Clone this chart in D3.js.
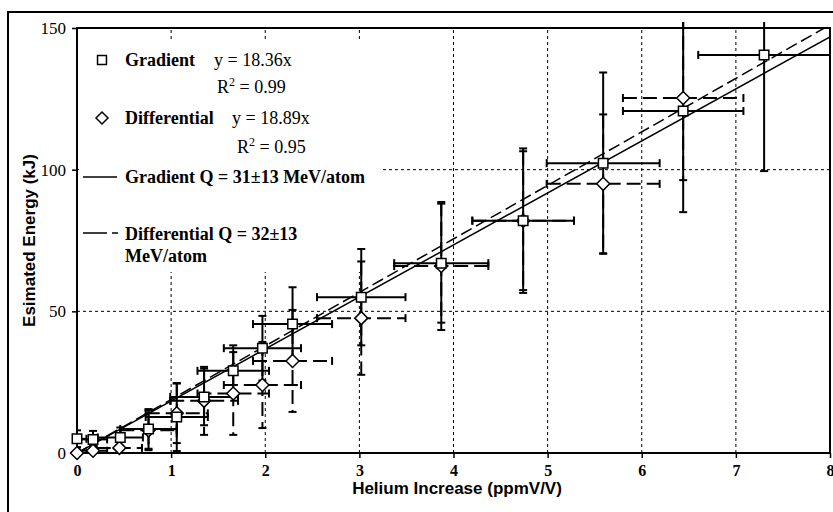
<!DOCTYPE html>
<html>
<head>
<meta charset="utf-8">
<script src="https://cdn.jsdelivr.net/npm/d3@7"></script>
<style>
  body { margin: 0; background: #fff; }
  svg { display: block; }
</style>
</head>
<body>
<svg id="chart" width="833" height="512"></svg>
<script>
// Gradient method: helium increase (ppmV/V) vs estimated energy (kJ)
const gradientX    = [0.00, 0.17, 0.46, 0.76, 1.06, 1.35, 1.66, 1.97, 2.29, 3.02, 3.87, 4.74, 5.59, 6.44, 7.30];
const gradientY    = [5.0, 4.8, 5.5, 8.5, 12.7, 19.8, 29.0, 37.0, 45.5, 55.0, 67.0, 82.0, 102.3, 120.7, 140.5];
const gradientXErr = [0.10, 0.15, 0.24, 0.30, 0.33, 0.36, 0.38, 0.41, 0.42, 0.47, 0.50, 0.54, 0.60, 0.64, 0.70];
const gradientYErr = [3.0, 3.0, 3.5, 7.0, 12.0, 10.0, 9.0, 11.4, 13.0, 17.0, 21.0, 25.5, 32.0, 35.7, 41.0];

// Differential method
const differentialX    = [0.00, 0.17, 0.45, 0.76, 1.06, 1.35, 1.66, 1.97, 2.29, 3.02, 3.87, 4.74, 5.59, 6.44];
const differentialY    = [0.0, 0.8, 1.8, 8.0, 14.0, 18.4, 21.0, 24.0, 32.5, 47.6, 66.0, 82.0, 95.0, 125.3];
const differentialXErr = [0.10, 0.15, 0.24, 0.30, 0.33, 0.36, 0.38, 0.41, 0.42, 0.47, 0.50, 0.54, 0.60, 0.64];
const differentialYErr = [2.0, 2.0, 3.0, 7.0, 10.5, 12.0, 14.6, 15.2, 18.0, 20.0, 22.6, 24.5, 24.5, 29.0];

// Fitted slopes (y = m x)
const gradientSlope = 18.36;
const differentialSlope = 18.89;

const xTicks = [0, 1, 2, 3, 4, 5, 6, 7, 8];
const yTicks = [0, 50, 100, 150];
const xGrid = [1, 2, 3, 4, 5, 6, 7];
const yGrid = [50, 100];

const xTitle = "Helium Increase (ppmV/V)";
const yTitle = "Esimated Energy (kJ)";

const svg = d3.select("#chart");
const serif = "'Liberation Serif', 'Times New Roman', serif";
const sans = "'Liberation Sans', Arial, sans-serif";

const x = d3.scaleLinear().domain([0, 8]).range([77, 830]);
const y = d3.scaleLinear().domain([0, 150]).range([453, 28]);

// outer frame
svg.append("rect").attr("x", 8).attr("y", 12).attr("width", 840).attr("height", 520)
  .attr("fill", "#fff").attr("stroke", "#000").attr("stroke-width", 2);

// gridlines
const grid = svg.append("g").attr("stroke", "#000").attr("stroke-width", 1).attr("stroke-dasharray", "3,3");
grid.selectAll("line.v").data(xGrid).join("line").attr("class", "v")
  .attr("x1", d => x(d)).attr("x2", d => x(d)).attr("y1", y(0)).attr("y2", y(150));
grid.selectAll("line.h").data(yGrid).join("line").attr("class", "h")
  .attr("x1", x(0)).attr("x2", x(8)).attr("y1", d => y(d)).attr("y2", d => y(d));

// axes
const yAxis = svg.append("g").attr("transform", `translate(${x(0)},0)`)
  .call(d3.axisLeft(y).tickValues(yTicks).tickSize(5).tickPadding(6).tickFormat(d3.format("d")));
yAxis.select(".domain").remove();
yAxis.selectAll("line").attr("stroke-width", 1.5);
yAxis.selectAll("text").attr("font-family", serif).attr("font-size", 17).attr("fill", "#000");

const xAxis = svg.append("g").attr("transform", `translate(0,${y(0)})`)
  .call(d3.axisBottom(x).tickValues(xTicks).tickSize(5).tickPadding(7).tickFormat(d3.format("d")));
xAxis.select(".domain").remove();
xAxis.selectAll("line").attr("stroke-width", 1.5);
xAxis.selectAll("text").attr("font-family", serif).attr("font-weight", "bold")
  .attr("font-size", 16).attr("fill", "#000");

// plot box
svg.append("rect").attr("x", x(0)).attr("y", y(150))
  .attr("width", x(8) - x(0)).attr("height", y(0) - y(150))
  .attr("fill", "none").attr("stroke", "#000").attr("stroke-width", 2);

// legend background
svg.append("rect").attr("x", 79).attr("y", 42).attr("width", 301).attr("height", 230).attr("fill", "#fff");

// axis titles
svg.append("text").attr("x", 457).attr("y", 494).attr("text-anchor", "middle")
  .attr("font-family", sans).attr("font-weight", "bold").attr("font-size", 17).text(xTitle);
svg.append("text").attr("transform", `translate(35,${(y(0) + y(150)) / 2}) rotate(-90)`)
  .attr("text-anchor", "middle").attr("font-family", sans).attr("font-weight", "bold")
  .attr("font-size", 17).text(yTitle);

// clip regions for lines and error bars
svg.append("clipPath").attr("id", "area").append("rect")
  .attr("x", x(0)).attr("y", 22).attr("width", x(8) - x(0) + 3).attr("height", y(0) - 22 + 1);
svg.append("clipPath").attr("id", "plot").append("rect")
  .attr("x", x(0)).attr("y", y(150)).attr("width", x(8) - x(0)).attr("height", y(0) - y(150));

// fitted lines
const fits = svg.append("g").attr("clip-path", "url(#plot)").attr("fill", "none").attr("stroke", "#000");
fits.append("line").attr("x1", x(0)).attr("y1", y(0)).attr("x2", x(8)).attr("y2", y(gradientSlope * 8))
  .attr("stroke-width", 1.5);
fits.append("line").attr("x1", x(0)).attr("y1", y(0)).attr("x2", x(8)).attr("y2", y(differentialSlope * 8))
  .attr("stroke-width", 1.5).attr("stroke-dasharray", "12,5");

// error bars: horizontal and vertical with end caps
function errorBars(xs, ys, xe, ye, dash) {
  const pts = xs.map((d, i) => ({ x: d, y: ys[i], xe: xe[i], ye: ye[i] }));
  const g = svg.append("g").attr("clip-path", "url(#area)").attr("stroke", "#000")
    .attr("stroke-width", 2).attr("fill", "none");
  const cap = 4;
  const segs = [];
  pts.forEach(p => {
    const px = x(p.x), py = y(p.y);
    const xl = x(p.x - p.xe), xr = x(p.x + p.xe);
    const yt = y(p.y + p.ye), yb = y(Math.max(0, p.y - p.ye));
    segs.push([xl, py, xr, py, true]);
    segs.push([xl, py - cap, xl, py + cap, false]);
    segs.push([xr, py - cap, xr, py + cap, false]);
    segs.push([px, yt, px, yb, true]);
    segs.push([px - cap, yt, px + cap, yt, false]);
    segs.push([px - cap, yb, px + cap, yb, false]);
  });
  g.selectAll("line").data(segs).join("line")
    .attr("x1", d => d[0]).attr("y1", d => d[1]).attr("x2", d => d[2]).attr("y2", d => d[3])
    .attr("stroke-dasharray", d => (dash && d[4]) ? dash : null);
}
errorBars(differentialX, differentialY, differentialXErr, differentialYErr, "14,6");
errorBars(gradientX, gradientY, gradientXErr, gradientYErr, null);

// markers
const square = d3.symbol().type(d3.symbolSquare).size(90);
const diamond = (cx, cy, r) => `M${cx},${cy - r}L${cx + r},${cy}L${cx},${cy + r}L${cx - r},${cy}Z`;

svg.append("g").selectAll("path").data(differentialX.map((d, i) => [d, differentialY[i]])).join("path")
  .attr("d", d => diamond(x(d[0]), y(d[1]), 6.5))
  .attr("fill", "#fff").attr("stroke", "#000").attr("stroke-width", 1.5);
svg.append("g").selectAll("path").data(gradientX.map((d, i) => [d, gradientY[i]])).join("path")
  .attr("transform", d => `translate(${x(d[0])},${y(d[1])})`).attr("d", square)
  .attr("fill", "#fff").attr("stroke", "#000").attr("stroke-width", 1.5);

// legend
const lg = svg.append("g").attr("font-family", serif).attr("font-size", 18).attr("fill", "#000");
lg.append("path").attr("transform", "translate(102,60)").attr("d", d3.symbol().type(d3.symbolSquare).size(80))
  .attr("fill", "#fff").attr("stroke", "#000").attr("stroke-width", 1.5);
lg.append("text").attr("x", 125).attr("y", 66).attr("font-weight", "bold").text("Gradient");
lg.append("text").attr("x", 214).attr("y", 66).text("y = 18.36x");
const r1 = lg.append("text").attr("x", 217).attr("y", 93);
r1.append("tspan").text("R");
r1.append("tspan").attr("dy", -7).attr("font-size", 12).text("2");
r1.append("tspan").attr("dy", 7).text(" = 0.99");

lg.append("path").attr("d", diamond(102, 118, 6)).attr("fill", "#fff").attr("stroke", "#000").attr("stroke-width", 1.5);
lg.append("text").attr("x", 125).attr("y", 124).attr("font-weight", "bold").text("Differential");
lg.append("text").attr("x", 232).attr("y", 124).text("y = 18.89x");
const r2 = lg.append("text").attr("x", 237).attr("y", 153);
r2.append("tspan").text("R");
r2.append("tspan").attr("dy", -7).attr("font-size", 12).text("2");
r2.append("tspan").attr("dy", 7).text(" = 0.95");

lg.append("line").attr("x1", 83).attr("x2", 117).attr("y1", 177).attr("y2", 177)
  .attr("stroke", "#000").attr("stroke-width", 1.5);
lg.append("text").attr("x", 125).attr("y", 183).attr("font-weight", "bold").text("Gradient Q = 31±13 MeV/atom");

lg.append("line").attr("x1", 83).attr("x2", 118).attr("y1", 233).attr("y2", 233)
  .attr("stroke", "#000").attr("stroke-width", 1.5).attr("stroke-dasharray", "24,5");
lg.append("text").attr("x", 125).attr("y", 240).attr("font-weight", "bold").text("Differential Q = 32±13");
lg.append("text").attr("x", 125).attr("y", 262).attr("font-weight", "bold").text("MeV/atom");
</script>
</body>
</html>
